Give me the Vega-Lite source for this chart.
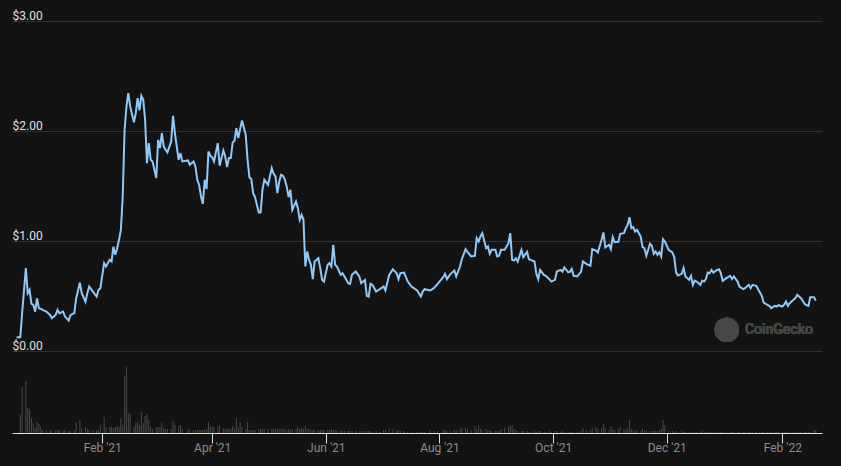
{
"$schema": "https://vega.github.io/schema/vega-lite/v6.json",
"width": 810, "height": 413,
"autosize": {"type": "none"},
"padding": {"left": 12, "top": 20, "right": 19, "bottom": 33},
"background": "#131313",
"config": {"view": {"stroke": null}, "font": "Roboto"},
"data": {"values": [
{"date":"2020-12-17","price":0.127,"volume":0},
{"date":"2020-12-19","price":0.127,"volume":18},
{"date":"2020-12-20","price":0.345,"volume":46},
{"date":"2020-12-22","price":0.755,"volume":52},
{"date":"2020-12-23","price":0.527,"volume":25},
{"date":"2020-12-24","price":0.557,"volume":24},
{"date":"2020-12-25","price":0.43,"volume":15},
{"date":"2020-12-26","price":0.42,"volume":10},
{"date":"2020-12-27","price":0.36,"volume":5},
{"date":"2020-12-28","price":0.48,"volume":11},
{"date":"2020-12-29","price":0.39,"volume":9},
{"date":"2020-12-30","price":0.385,"volume":6},
{"date":"2020-12-31","price":0.376,"volume":3},
{"date":"2021-01-02","price":0.36,"volume":3},
{"date":"2021-01-04","price":0.33,"volume":3},
{"date":"2021-01-05","price":0.30,"volume":2},
{"date":"2021-01-07","price":0.33,"volume":3},
{"date":"2021-01-08","price":0.376,"volume":3},
{"date":"2021-01-09","price":0.345,"volume":3},
{"date":"2021-01-11","price":0.36,"volume":2},
{"date":"2021-01-12","price":0.315,"volume":3},
{"date":"2021-01-14","price":0.279,"volume":2},
{"date":"2021-01-15","price":0.33,"volume":2},
{"date":"2021-01-17","price":0.345,"volume":3},
{"date":"2021-01-18","price":0.48,"volume":10},
{"date":"2021-01-20","price":0.624,"volume":13},
{"date":"2021-01-21","price":0.527,"volume":5},
{"date":"2021-01-23","price":0.45,"volume":6},
{"date":"2021-01-24","price":0.527,"volume":4},
{"date":"2021-01-25","price":0.588,"volume":3},
{"date":"2021-01-27","price":0.542,"volume":3},
{"date":"2021-01-29","price":0.497,"volume":3},
{"date":"2021-01-30","price":0.557,"volume":3},
{"date":"2021-01-31","price":0.573,"volume":8},
{"date":"2021-02-02","price":0.8,"volume":16},
{"date":"2021-02-03","price":0.77,"volume":6},
{"date":"2021-02-05","price":0.83,"volume":6},
{"date":"2021-02-06","price":0.815,"volume":6},
{"date":"2021-02-07","price":0.95,"volume":5},
{"date":"2021-02-08","price":0.876,"volume":6},
{"date":"2021-02-09","price":0.936,"volume":7},
{"date":"2021-02-10","price":1.012,"volume":6},
{"date":"2021-02-11","price":1.103,"volume":15},
{"date":"2021-02-12","price":1.406,"volume":8},
{"date":"2021-02-13","price":2.012,"volume":57},
{"date":"2021-02-14","price":2.224,"volume":66},
{"date":"2021-02-15","price":2.345,"volume":20},
{"date":"2021-02-16","price":2.224,"volume":19},
{"date":"2021-02-18","price":2.079,"volume":6},
{"date":"2021-02-19","price":2.164,"volume":10},
{"date":"2021-02-20","price":2.30,"volume":11},
{"date":"2021-02-21","price":2.188,"volume":8},
{"date":"2021-02-22","price":2.321,"volume":21},
{"date":"2021-02-23","price":2.285,"volume":10},
{"date":"2021-02-24","price":2.103,"volume":17},
{"date":"2021-02-25","price":1.709,"volume":19},
{"date":"2021-02-26","price":1.891,"volume":13},
{"date":"2021-02-27","price":1.739,"volume":6},
{"date":"2021-02-28","price":1.724,"volume":4},
{"date":"2021-03-02","price":1.573,"volume":6},
{"date":"2021-03-03","price":1.921,"volume":6},
{"date":"2021-03-04","price":1.845,"volume":6},
{"date":"2021-03-05","price":1.982,"volume":10},
{"date":"2021-03-06","price":1.861,"volume":5},
{"date":"2021-03-07","price":1.83,"volume":4},
{"date":"2021-03-08","price":1.806,"volume":4},
{"date":"2021-03-10","price":1.906,"volume":4},
{"date":"2021-03-11","price":2.139,"volume":12},
{"date":"2021-03-12","price":1.982,"volume":8},
{"date":"2021-03-14","price":1.739,"volume":7},
{"date":"2021-03-15","price":1.8,"volume":8},
{"date":"2021-03-16","price":1.724,"volume":4},
{"date":"2021-03-19","price":1.733,"volume":4},
{"date":"2021-03-20","price":1.694,"volume":3},
{"date":"2021-03-22","price":1.724,"volume":3},
{"date":"2021-03-23","price":1.679,"volume":3},
{"date":"2021-03-24","price":1.558,"volume":3},
{"date":"2021-03-25","price":1.512,"volume":3},
{"date":"2021-03-26","price":1.406,"volume":3},
{"date":"2021-03-27","price":1.339,"volume":3},
{"date":"2021-03-28","price":1.558,"volume":3},
{"date":"2021-03-29","price":1.473,"volume":4},
{"date":"2021-03-30","price":1.815,"volume":11},
{"date":"2021-03-31","price":1.776,"volume":7},
{"date":"2021-04-01","price":1.764,"volume":6},
{"date":"2021-04-02","price":1.724,"volume":6},
{"date":"2021-04-04","price":1.891,"volume":6},
{"date":"2021-04-05","price":1.685,"volume":8},
{"date":"2021-04-07","price":1.824,"volume":5},
{"date":"2021-04-08","price":1.77,"volume":4},
{"date":"2021-04-09","price":1.673,"volume":4},
{"date":"2021-04-10","price":1.755,"volume":4},
{"date":"2021-04-11","price":1.755,"volume":4},
{"date":"2021-04-12","price":1.897,"volume":7},
{"date":"2021-04-13","price":1.912,"volume":5},
{"date":"2021-04-14","price":2.027,"volume":15},
{"date":"2021-04-15","price":1.936,"volume":6},
{"date":"2021-04-16","price":2.018,"volume":11},
{"date":"2021-04-17","price":2.097,"volume":6},
{"date":"2021-04-19","price":1.967,"volume":4},
{"date":"2021-04-20","price":1.739,"volume":11},
{"date":"2021-04-21","price":1.579,"volume":3},
{"date":"2021-04-22","price":1.564,"volume":3},
{"date":"2021-04-23","price":1.436,"volume":3},
{"date":"2021-04-24","price":1.4,"volume":3},
{"date":"2021-04-26","price":1.261,"volume":4},
{"date":"2021-04-27","price":1.261,"volume":4},
{"date":"2021-04-28","price":1.467,"volume":4},
{"date":"2021-04-29","price":1.558,"volume":4},
{"date":"2021-05-01","price":1.512,"volume":4},
{"date":"2021-05-03","price":1.664,"volume":4},
{"date":"2021-05-04","price":1.612,"volume":4},
{"date":"2021-05-05","price":1.588,"volume":4},
{"date":"2021-05-06","price":1.436,"volume":4},
{"date":"2021-05-07","price":1.542,"volume":4},
{"date":"2021-05-08","price":1.603,"volume":4},
{"date":"2021-05-09","price":1.594,"volume":4},
{"date":"2021-05-10","price":1.56,"volume":4},
{"date":"2021-05-11","price":1.497,"volume":3},
{"date":"2021-05-12","price":1.4,"volume":4},
{"date":"2021-05-13","price":1.467,"volume":3},
{"date":"2021-05-14","price":1.285,"volume":4},
{"date":"2021-05-16","price":1.361,"volume":4},
{"date":"2021-05-17","price":1.3,"volume":6},
{"date":"2021-05-18","price":1.194,"volume":4},
{"date":"2021-05-19","price":1.239,"volume":5},
{"date":"2021-05-20","price":1.194,"volume":4},
{"date":"2021-05-21","price":0.77,"volume":7},
{"date":"2021-05-22","price":0.906,"volume":4},
{"date":"2021-05-23","price":0.83,"volume":4},
{"date":"2021-05-24","price":0.785,"volume":3},
{"date":"2021-05-25","price":0.655,"volume":3},
{"date":"2021-05-26","price":0.815,"volume":3},
{"date":"2021-05-28","price":0.845,"volume":3},
{"date":"2021-05-29","price":0.755,"volume":3},
{"date":"2021-05-30","price":0.648,"volume":3},
{"date":"2021-05-31","price":0.633,"volume":3},
{"date":"2021-06-02","price":0.785,"volume":3},
{"date":"2021-06-03","price":0.8,"volume":3},
{"date":"2021-06-04","price":0.77,"volume":4},
{"date":"2021-06-05","price":0.967,"volume":3},
{"date":"2021-06-06","price":0.785,"volume":3},
{"date":"2021-06-07","price":0.77,"volume":2},
{"date":"2021-06-09","price":0.694,"volume":3},
{"date":"2021-06-10","price":0.709,"volume":2},
{"date":"2021-06-11","price":0.679,"volume":2},
{"date":"2021-06-13","price":0.618,"volume":2},
{"date":"2021-06-14","price":0.612,"volume":2},
{"date":"2021-06-15","price":0.694,"volume":2},
{"date":"2021-06-17","price":0.724,"volume":2},
{"date":"2021-06-19","price":0.679,"volume":2},
{"date":"2021-06-20","price":0.618,"volume":2},
{"date":"2021-06-22","price":0.648,"volume":2},
{"date":"2021-06-23","price":0.503,"volume":2},
{"date":"2021-06-24","price":0.497,"volume":2},
{"date":"2021-06-25","price":0.612,"volume":2},
{"date":"2021-06-26","price":0.603,"volume":1},
{"date":"2021-06-28","price":0.542,"volume":2},
{"date":"2021-06-30","price":0.564,"volume":1},
{"date":"2021-07-02","price":0.588,"volume":3},
{"date":"2021-07-03","price":0.552,"volume":3},
{"date":"2021-07-05","price":0.694,"volume":4},
{"date":"2021-07-07","price":0.745,"volume":4},
{"date":"2021-07-09","price":0.709,"volume":3},
{"date":"2021-07-10","price":0.655,"volume":3},
{"date":"2021-07-11","price":0.709,"volume":2},
{"date":"2021-07-13","price":0.715,"volume":2},
{"date":"2021-07-15","price":0.633,"volume":1},
{"date":"2021-07-17","price":0.588,"volume":1},
{"date":"2021-07-20","price":0.552,"volume":1},
{"date":"2021-07-22","price":0.497,"volume":1},
{"date":"2021-07-23","price":0.54,"volume":1},
{"date":"2021-07-24","price":0.564,"volume":1},
{"date":"2021-07-27","price":0.552,"volume":3},
{"date":"2021-07-29","price":0.573,"volume":2},
{"date":"2021-07-31","price":0.612,"volume":2},
{"date":"2021-08-03","price":0.673,"volume":3},
{"date":"2021-08-04","price":0.703,"volume":3},
{"date":"2021-08-05","price":0.655,"volume":2},
{"date":"2021-08-07","price":0.703,"volume":2},
{"date":"2021-08-09","price":0.733,"volume":3},
{"date":"2021-08-10","price":0.679,"volume":3},
{"date":"2021-08-12","price":0.77,"volume":4},
{"date":"2021-08-13","price":0.836,"volume":5},
{"date":"2021-08-15","price":0.927,"volume":5},
{"date":"2021-08-16","price":0.903,"volume":4},
{"date":"2021-08-18","price":0.861,"volume":3},
{"date":"2021-08-20","price":0.867,"volume":7},
{"date":"2021-08-21","price":1.027,"volume":4},
{"date":"2021-08-22","price":0.997,"volume":8},
{"date":"2021-08-23","price":1.042,"volume":4},
{"date":"2021-08-24","price":1.073,"volume":3},
{"date":"2021-08-26","price":0.936,"volume":4},
{"date":"2021-08-27","price":0.952,"volume":3},
{"date":"2021-08-28","price":0.885,"volume":3},
{"date":"2021-08-29","price":0.921,"volume":2},
{"date":"2021-08-31","price":0.921,"volume":2},
{"date":"2021-09-01","price":0.861,"volume":2},
{"date":"2021-09-02","price":0.867,"volume":2},
{"date":"2021-09-03","price":0.921,"volume":4},
{"date":"2021-09-05","price":0.921,"volume":5},
{"date":"2021-09-07","price":0.982,"volume":6},
{"date":"2021-09-08","price":1.073,"volume":7},
{"date":"2021-09-09","price":0.83,"volume":8},
{"date":"2021-09-10","price":0.824,"volume":4},
{"date":"2021-09-11","price":0.845,"volume":3},
{"date":"2021-09-12","price":0.815,"volume":2},
{"date":"2021-09-14","price":0.921,"volume":2},
{"date":"2021-09-15","price":0.855,"volume":2},
{"date":"2021-09-17","price":0.903,"volume":2},
{"date":"2021-09-18","price":0.836,"volume":1},
{"date":"2021-09-19","price":0.83,"volume":1},
{"date":"2021-09-21","price":0.815,"volume":2},
{"date":"2021-09-22","price":0.703,"volume":1},
{"date":"2021-09-23","price":0.655,"volume":2},
{"date":"2021-09-24","price":0.739,"volume":2},
{"date":"2021-09-26","price":0.694,"volume":1},
{"date":"2021-09-27","price":0.685,"volume":1},
{"date":"2021-09-29","price":0.655,"volume":2},
{"date":"2021-09-30","price":0.633,"volume":1},
{"date":"2021-10-02","price":0.648,"volume":2},
{"date":"2021-10-03","price":0.724,"volume":2},
{"date":"2021-10-05","price":0.739,"volume":1},
{"date":"2021-10-06","price":0.724,"volume":2},
{"date":"2021-10-07","price":0.761,"volume":1},
{"date":"2021-10-09","price":0.718,"volume":1},
{"date":"2021-10-10","price":0.721,"volume":1},
{"date":"2021-10-11","price":0.748,"volume":1},
{"date":"2021-10-12","price":0.685,"volume":1},
{"date":"2021-10-14","price":0.679,"volume":1},
{"date":"2021-10-16","price":0.724,"volume":2},
{"date":"2021-10-17","price":0.815,"volume":5},
{"date":"2021-10-19","price":0.791,"volume":3},
{"date":"2021-10-21","price":0.776,"volume":3},
{"date":"2021-10-22","price":0.927,"volume":5},
{"date":"2021-10-24","price":0.915,"volume":6},
{"date":"2021-10-25","price":0.897,"volume":4},
{"date":"2021-10-27","price":1.012,"volume":5},
{"date":"2021-10-28","price":1.079,"volume":9},
{"date":"2021-10-29","price":0.942,"volume":5},
{"date":"2021-10-31","price":0.967,"volume":3},
{"date":"2021-11-01","price":0.927,"volume":7},
{"date":"2021-11-02","price":1.036,"volume":4},
{"date":"2021-11-03","price":0.991,"volume":3},
{"date":"2021-11-05","price":0.994,"volume":4},
{"date":"2021-11-06","price":1.067,"volume":6},
{"date":"2021-11-08","price":1.073,"volume":4},
{"date":"2021-11-09","price":1.118,"volume":3},
{"date":"2021-11-10","price":1.148,"volume":5},
{"date":"2021-11-11","price":1.218,"volume":13},
{"date":"2021-11-12","price":1.118,"volume":4},
{"date":"2021-11-13","price":1.127,"volume":3},
{"date":"2021-11-14","price":1.088,"volume":2},
{"date":"2021-11-15","price":1.103,"volume":3},
{"date":"2021-11-17","price":1.042,"volume":2},
{"date":"2021-11-18","price":0.945,"volume":4},
{"date":"2021-11-19","price":0.936,"volume":2},
{"date":"2021-11-20","price":0.867,"volume":3},
{"date":"2021-11-22","price":0.976,"volume":2},
{"date":"2021-11-23","price":0.958,"volume":2},
{"date":"2021-11-24","price":0.885,"volume":2},
{"date":"2021-11-25","price":0.906,"volume":2},
{"date":"2021-11-26","price":0.876,"volume":2},
{"date":"2021-11-27","price":0.9,"volume":3},
{"date":"2021-11-28","price":0.861,"volume":4},
{"date":"2021-11-29","price":1.018,"volume":13},
{"date":"2021-11-30","price":0.997,"volume":8},
{"date":"2021-12-02","price":0.921,"volume":2},
{"date":"2021-12-04","price":0.897,"volume":2},
{"date":"2021-12-05","price":0.855,"volume":1},
{"date":"2021-12-06","price":0.715,"volume":2},
{"date":"2021-12-07","price":0.688,"volume":1},
{"date":"2021-12-09","price":0.703,"volume":2},
{"date":"2021-12-10","price":0.755,"volume":1},
{"date":"2021-12-11","price":0.679,"volume":1},
{"date":"2021-12-13","price":0.648,"volume":1},
{"date":"2021-12-14","price":0.685,"volume":1},
{"date":"2021-12-15","price":0.603,"volume":1},
{"date":"2021-12-16","price":0.642,"volume":1},
{"date":"2021-12-17","price":0.633,"volume":1},
{"date":"2021-12-19","price":0.603,"volume":1},
{"date":"2021-12-20","price":0.642,"volume":2},
{"date":"2021-12-21","price":0.633,"volume":1},
{"date":"2021-12-22","price":0.655,"volume":1},
{"date":"2021-12-23","price":0.715,"volume":1},
{"date":"2021-12-24","price":0.709,"volume":1},
{"date":"2021-12-25","price":0.739,"volume":1},
{"date":"2021-12-26","price":0.715,"volume":1},
{"date":"2021-12-28","price":0.739,"volume":1},
{"date":"2021-12-29","price":0.745,"volume":1},
{"date":"2021-12-30","price":0.709,"volume":1},
{"date":"2021-12-31","price":0.639,"volume":1},
{"date":"2022-01-02","price":0.664,"volume":1},
{"date":"2022-01-04","price":0.685,"volume":1},
{"date":"2022-01-05","price":0.655,"volume":1},
{"date":"2022-01-06","price":0.679,"volume":1},
{"date":"2022-01-08","price":0.633,"volume":1},
{"date":"2022-01-09","price":0.588,"volume":1},
{"date":"2022-01-11","price":0.564,"volume":1},
{"date":"2022-01-12","price":0.573,"volume":1},
{"date":"2022-01-14","price":0.603,"volume":1},
{"date":"2022-01-15","price":0.573,"volume":1},
{"date":"2022-01-16","price":0.603,"volume":1},
{"date":"2022-01-18","price":0.594,"volume":1},
{"date":"2022-01-20","price":0.533,"volume":1},
{"date":"2022-01-21","price":0.503,"volume":1},
{"date":"2022-01-22","price":0.442,"volume":1},
{"date":"2022-01-24","price":0.421,"volume":1},
{"date":"2022-01-25","price":0.412,"volume":1},
{"date":"2022-01-26","price":0.391,"volume":1},
{"date":"2022-01-28","price":0.412,"volume":1},
{"date":"2022-01-29","price":0.406,"volume":1},
{"date":"2022-01-30","price":0.418,"volume":1},
{"date":"2022-02-01","price":0.406,"volume":1},
{"date":"2022-02-02","price":0.424,"volume":1},
{"date":"2022-02-03","price":0.452,"volume":1},
{"date":"2022-02-04","price":0.412,"volume":1},
{"date":"2022-02-05","price":0.436,"volume":1},
{"date":"2022-02-07","price":0.467,"volume":1},
{"date":"2022-02-08","price":0.482,"volume":1},
{"date":"2022-02-09","price":0.512,"volume":1},
{"date":"2022-02-10","price":0.497,"volume":1},
{"date":"2022-02-11","price":0.482,"volume":1},
{"date":"2022-02-13","price":0.43,"volume":1},
{"date":"2022-02-14","price":0.418,"volume":1},
{"date":"2022-02-15","price":0.412,"volume":1},
{"date":"2022-02-16","price":0.49,"volume":1},
{"date":"2022-02-18","price":0.491,"volume":3},
{"date":"2022-02-19","price":0.461,"volume":3}
]},
"layer": [
{
"mark": {"type": "bar", "color": "#4a4a4a", "size": 1},
"encoding": {
"x": {"field": "date", "type": "temporal",
"scale": {"type": "utc", "domain": [{"year": 2020, "month": 12, "date": 17, "hours": 6, "utc": true}, {"year": 2022, "month": 2, "date": 19, "hours": 15, "utc": true}]},
"axis": {"title": null, "grid": false, "format": "%b '%y",
"values": [{"year": 2021, "month": 2, "date": 1, "utc": true}, {"year": 2021, "month": 4, "date": 1, "utc": true}, {"year": 2021, "month": 6, "date": 1, "utc": true}, {"year": 2021, "month": 8, "date": 1, "utc": true}, {"year": 2021, "month": 10, "date": 1, "utc": true}, {"year": 2021, "month": 12, "date": 1, "utc": true}, {"year": 2022, "month": 2, "date": 1, "utc": true}],
"labelColor": "#8a8a8a", "labelFontSize": 12, "labelFont": "Roboto", "labelPadding": -1, "labelFlush": false, "labelOverlap": false,
"domainColor": "#e0e0e0", "domainWidth": 1, "tickColor": "#e0e0e0", "tickSize": 10, "tickWidth": 1}},
"y": {"field": "volume", "type": "quantitative", "scale": {"domain": [0, 413]}, "axis": null}
}
},
{
"mark": {"type": "point", "filled": true, "color": "#474747", "opacity": 1, "size": 590},
"encoding": {
"x": {"datum": {"year": 2022, "month": 1, "date": 2, "hours": 5, "utc": true}, "type": "temporal"},
"y": {"datum": 0.194, "type": "quantitative", "scale": {"domain": [-0.7427, 3.0091]}, "axis": null}
}
},
{
"mark": {"type": "text", "text": "CoinGecko", "color": "#444444", "font": "Roboto", "fontSize": 14, "fontWeight": 500, "align": "left", "baseline": "middle"},
"encoding": {
"x": {"datum": {"year": 2022, "month": 1, "date": 11, "hours": 22, "utc": true}, "type": "temporal"},
"y": {"datum": 0.194, "type": "quantitative", "scale": {"domain": [-0.7427, 3.0091]}, "axis": null}
}
},
{
"mark": {"type": "line", "color": "#8fc9f8", "strokeWidth": 2},
"encoding": {
"x": {"field": "date", "type": "temporal"},
"y": {"field": "price", "type": "quantitative", "scale": {"domain": [-0.7427, 3.0091]},
"axis": {"orient": "left", "title": null, "values": [0, 1, 2, 3], "format": "$.2f", "grid": true, "gridColor": "#303030", "gridWidth": 1, "domain": false, "ticks": false, "tickSize": 0, "labelAlign": "left", "labelBaseline": "alphabetic", "labelPadding": 0, "labelOffset": -2, "labelColor": "#e0e0e0", "labelFontSize": 12, "labelFont": "Roboto", "labelFlush": false, "labelOverlap": false}}
}
}
],
"resolve": {"scale": {"y": "independent"}}
}
